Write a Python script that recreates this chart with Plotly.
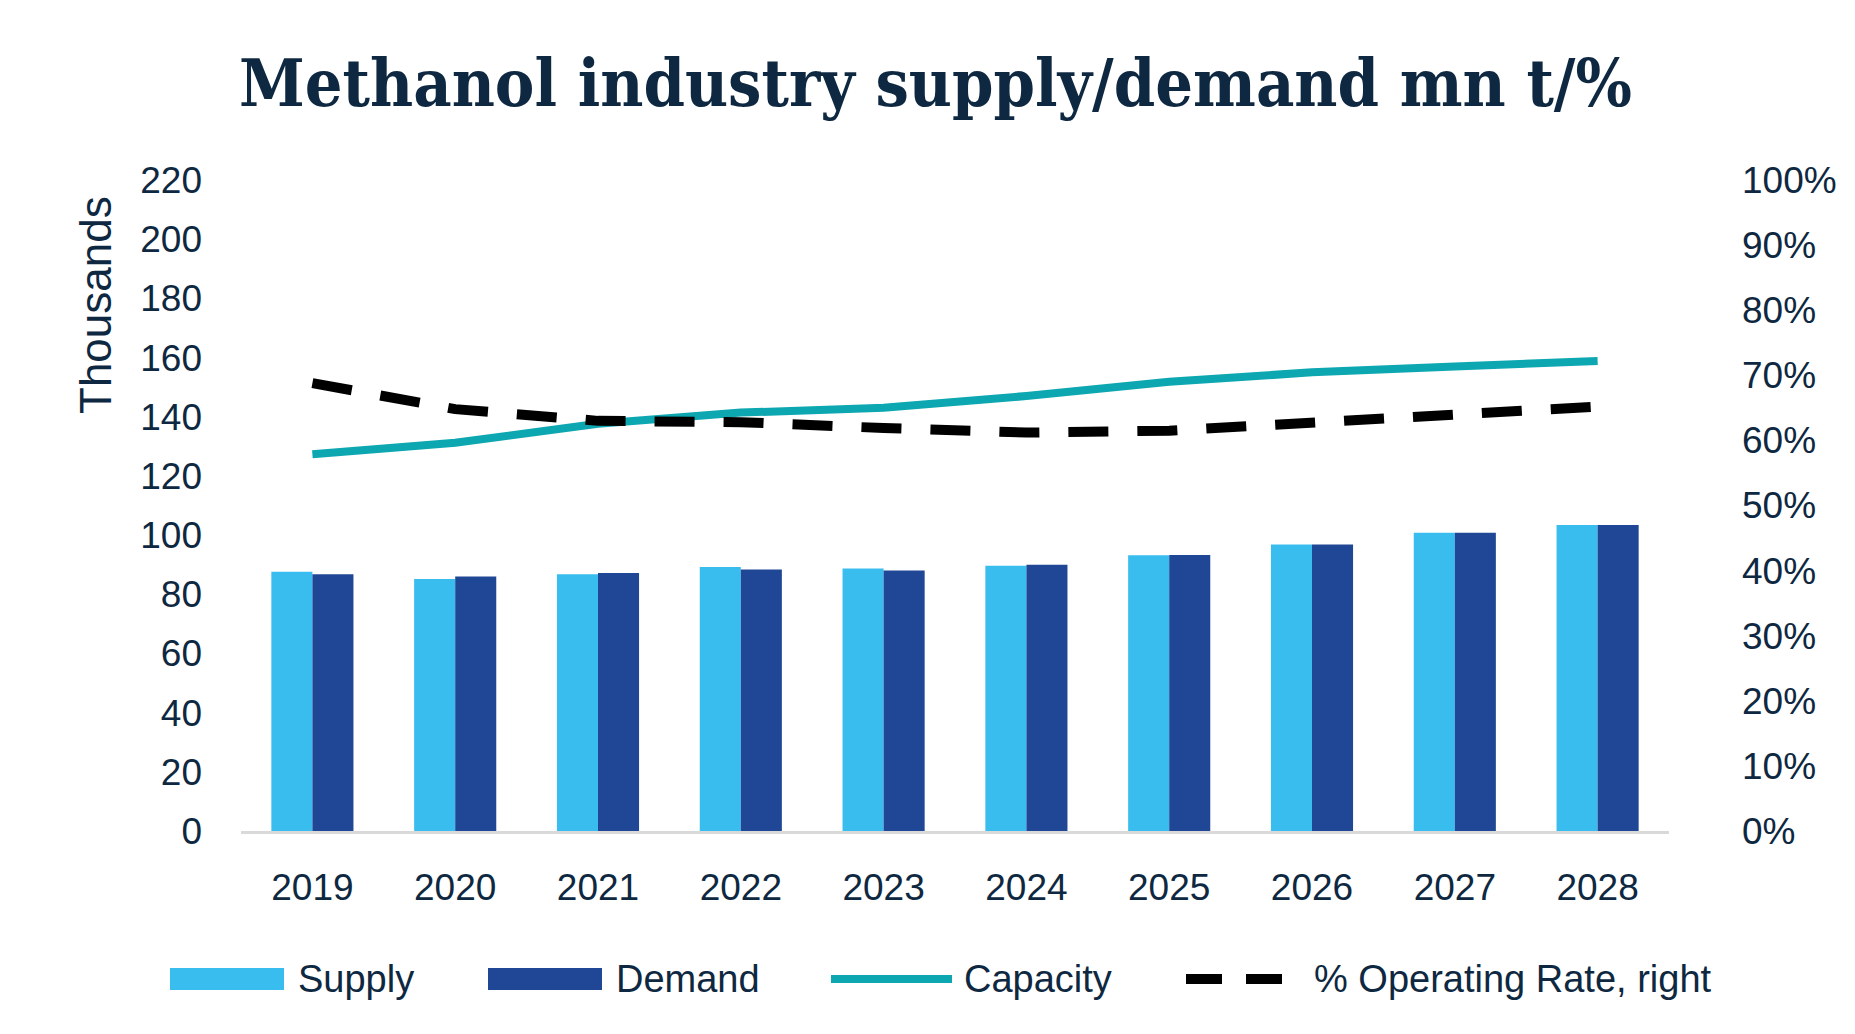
import plotly.graph_objects as go

years = ["2019", "2020", "2021", "2022", "2023", "2024", "2025", "2026", "2027", "2028"]
supply = [87.6, 85.2, 86.8, 89.2, 88.7, 89.6, 93.2, 96.8, 100.8, 103.4]
demand = [86.8, 86.0, 87.2, 88.4, 88.0, 90.0, 93.3, 96.8, 100.8, 103.4]
capacity = [127.3, 131.2, 137.6, 141.4, 143.0, 147.0, 151.8, 155.0, 157.0, 158.8]
op_rate = [0.688, 0.648, 0.630, 0.628, 0.619, 0.612, 0.615, 0.628, 0.642, 0.652]

left_ticks = list(range(0, 221, 20))
right_ticks = [i / 10 for i in range(0, 11)]

C_SUPPLY = "#38BDEE"
C_DEMAND = "#1F4795"
C_CAP = "#0CA7B0"
C_TEXT = "#0E2841"
FONT = "Liberation Sans, Arial, sans-serif"

W, H = 1855, 1034
L, R, T, B = 233, 194, 172, 211
PW, PH = W - L - R, H - T - B
DASH = "40px,29px"

fig = go.Figure()
fig.add_trace(go.Bar(x=years, y=supply, name="Supply", marker_color=C_SUPPLY,
                     marker_line_width=0))
fig.add_trace(go.Bar(x=years, y=demand, name="Demand", marker_color=C_DEMAND,
                     marker_line_width=0))
fig.add_trace(go.Scatter(x=years, y=capacity, name="Capacity", mode="lines",
                         line=dict(color=C_CAP, width=8)))
fig.add_trace(go.Scatter(x=years, y=op_rate, name="% Operating Rate, right", mode="lines",
                         yaxis="y2", line=dict(color="black", width=10, dash=DASH)))

def px_x(px):
    return (px - L) / PW

def px_y(py):
    return (H - B - py) / PH

# custom legend (decoration)
ly = 971
shapes = []
annotations = []
legend_items = [
    ("rect", C_SUPPLY, 162, 276, "Supply", 288),
    ("rect", C_DEMAND, 480, 594, "Demand", 606),
    ("line", C_CAP, 823, 944, "Capacity", 954),
    ("dash", "black", 1178, 1295, "% Operating Rate, right", 1304),
]
for kind, col, x0, x1, label, tx in legend_items:
    if kind == "rect":
        shapes.append(dict(type="rect", xref="paper", yref="paper",
                           x0=px_x(x0), x1=px_x(x1), y0=px_y(ly + 11), y1=px_y(ly - 11),
                           fillcolor=col, line_width=0))
    elif kind == "line":
        shapes.append(dict(type="line", xref="paper", yref="paper",
                           x0=px_x(x0), x1=px_x(x1), y0=px_y(ly), y1=px_y(ly),
                           line=dict(color=col, width=8)))
    else:
        shapes.append(dict(type="line", xref="paper", yref="paper",
                           x0=px_x(x0), x1=px_x(x1), y0=px_y(ly), y1=px_y(ly),
                           line=dict(color=col, width=10, dash="36px,24px")))
    annotations.append(dict(text=label, xref="paper", yref="paper", x=px_x(tx), y=px_y(ly),
                            xanchor="left", yanchor="middle", showarrow=False,
                            font=dict(family=FONT, size=38, color=C_TEXT)))

# left axis title near the top
annotations.append(dict(text="Thousands", textangle=-90, xref="paper", yref="paper",
                        x=px_x(87), y=px_y(186), xanchor="center", yanchor="top",
                        showarrow=False, font=dict(family=FONT, size=44, color=C_TEXT)))

fig.update_layout(
    width=W, height=H,
    margin=dict(l=L, r=R, t=T, b=B),
    paper_bgcolor="white", plot_bgcolor="white",
    barmode="group", bargap=0.425, bargroupgap=0,
    showlegend=False,
    title=dict(text="<b>Methanol industry supply/demand mn t/%</b>",
               x=0.5, xanchor="center", xref="container", y=1 - 75 / H, yanchor="middle",
               yref="container",
               font=dict(family="DejaVu Serif Condensed, DejaVu Serif, serif", size=66,
                         color=C_TEXT)),
    xaxis=dict(showgrid=False, showline=True, linecolor="#D9D9D9", linewidth=3,
               ticks="", ticklabelstandoff=22,
               tickfont=dict(family=FONT, size=37, color=C_TEXT)),
    yaxis=dict(range=[0, 220], tickvals=left_ticks, showgrid=False, zeroline=False,
               showline=False, ticks="", ticklabelstandoff=38,
               tickfont=dict(family=FONT, size=37, color=C_TEXT)),
    yaxis2=dict(range=[0, 1.0], tickvals=right_ticks, tickformat=".0%", overlaying="y",
                side="right", showgrid=False, zeroline=False, showline=False, ticks="",
                ticklabelstandoff=72,
                tickfont=dict(family=FONT, size=37, color=C_TEXT)),
    shapes=shapes,
    annotations=annotations,
)

fig.write_html("out.html")
